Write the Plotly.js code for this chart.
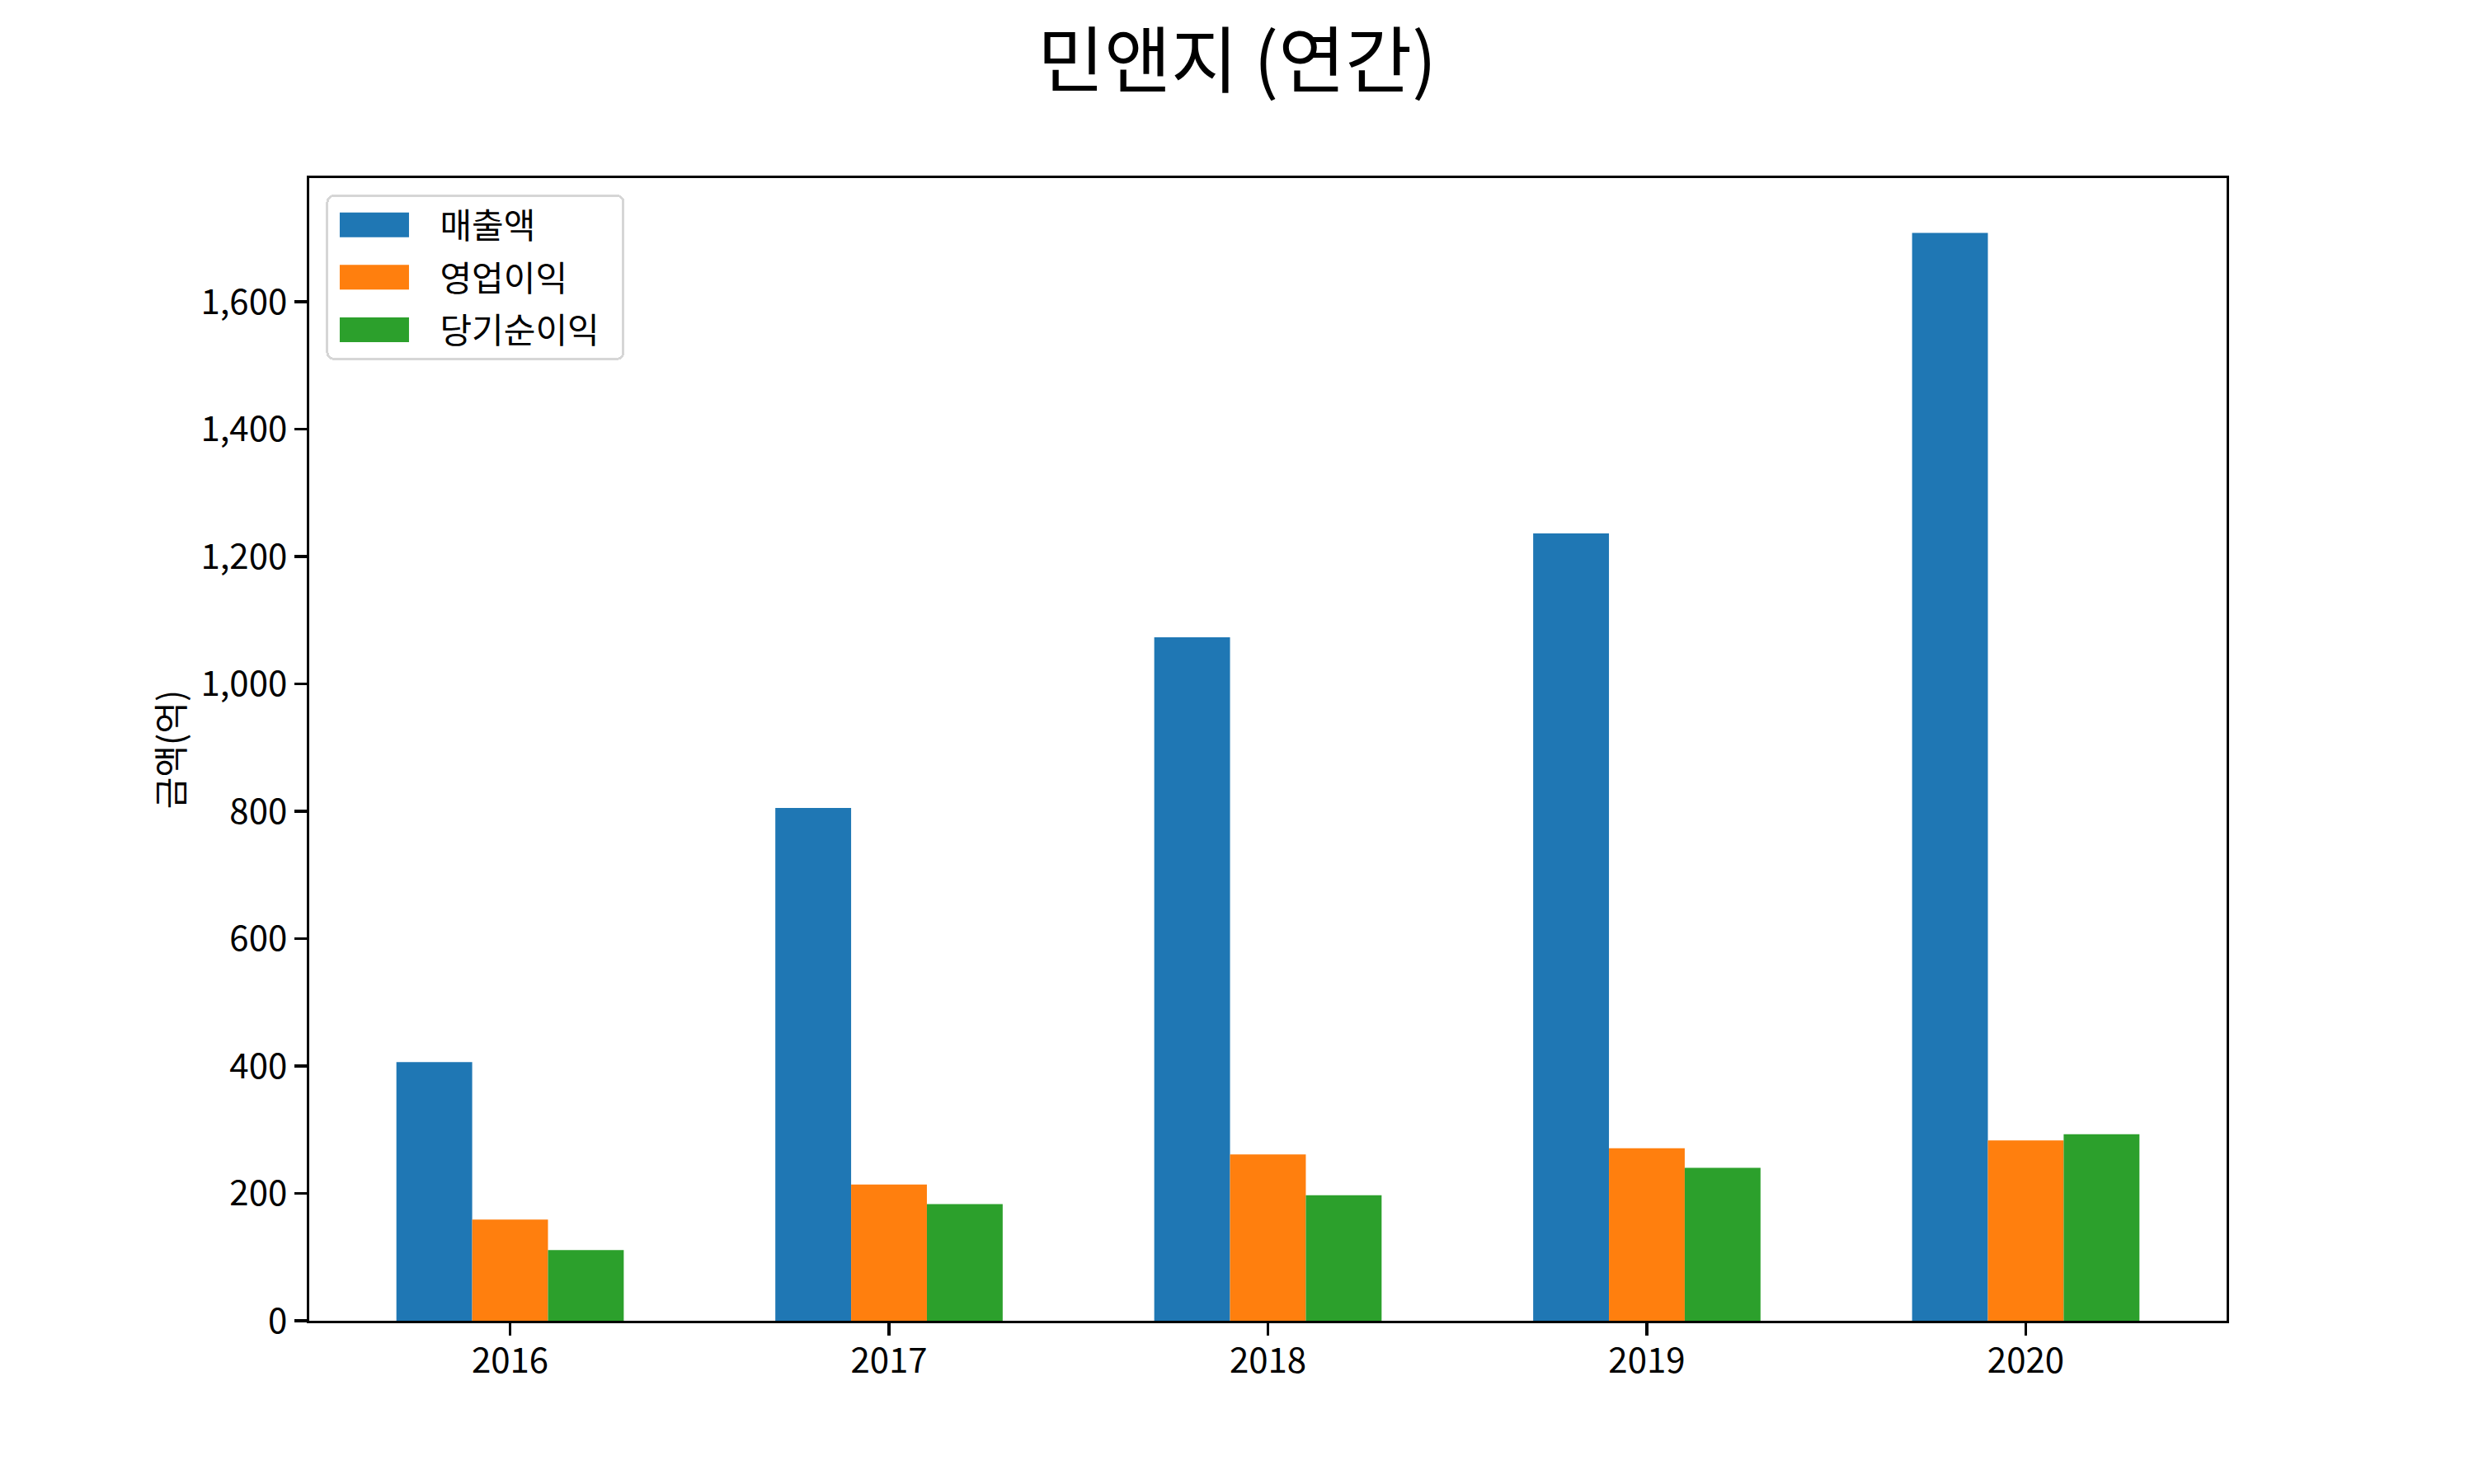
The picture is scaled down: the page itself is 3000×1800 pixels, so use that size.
<!DOCTYPE html>
<html>
<head>
<meta charset="utf-8">
<script src="https://cdn.plot.ly/plotly-3.0.1.min.js"></script>
<style>html,body{margin:0;padding:0;background:#fff;}#chart{width:3000px;height:1800px;}</style>
</head>
<body>
<div id="chart"></div>
<script>
const years = ['2016', '2017', '2018', '2019', '2020'];
const seriesNames = ['매출액', '영업이익', '당기순이익'];
const revenue = [406, 805, 1073, 1236, 1708];
const operatingProfit = [159, 214, 261, 271, 283];
const netIncome = [111, 183, 197, 240, 293];
const colors = ['#1f77b4', '#ff7f0e', '#2ca02c'];

const FONT = '"Noto Sans CJK KR", "Noto Sans", sans-serif';
const values = [revenue, operatingProfit, netIncome];

const traces = values.map((v, i) => ({
  type: 'bar',
  name: seriesNames[i],
  x: years,
  y: v,
  marker: {color: colors[i], line: {width: 0}},
  legendgroup: 'g' + i,
  hoverinfo: 'x+y+name'
}));

const layout = {
  width: 3000,
  height: 1800,
  paper_bgcolor: '#ffffff',
  plot_bgcolor: '#ffffff',
  margin: {l: 375, r: 300, t: 216, b: 198, pad: 0},
  font: {family: FONT, size: 42, color: '#000'},
  title: {
    text: '민앤지 (연간)',
    font: {family: FONT, size: 88, color: '#000'},
    x: 0.5, xanchor: 'center', xref: 'container',
    y: 1 - 74 / 1800, yanchor: 'middle', yref: 'container'
  },
  barmode: 'group',
  bargap: 0.4,
  bargroupgap: 0,
  showlegend: true,
  legend: {
    x: 0.0088, y: 0.9856, xanchor: 'left', yanchor: 'top',
    bgcolor: 'rgba(255,255,255,0.8)',
    bordercolor: '#d6d6d6', borderwidth: 3,
    font: {family: FONT, size: 42, color: '#000'},
    tracegroupgap: 6,
    itemwidth: 125,
    traceorder: 'grouped'
  },
  xaxis: {
    type: 'category',
    range: [-0.53, 4.53],
    showgrid: false, zeroline: false,
    showline: true, linecolor: '#000', linewidth: 3.3, mirror: true,
    ticks: 'outside', ticklen: 15, tickwidth: 3.3, tickcolor: '#000',
    ticklabelstandoff: -6,
    tickfont: {family: FONT, size: 42, color: '#000'},
    fixedrange: true
  },
  yaxis: {
    range: [0, 1794],
    tickvals: [0, 200, 400, 600, 800, 1000, 1200, 1400, 1600],
    tickformat: ',d',
    showgrid: false, zeroline: false,
    showline: true, linecolor: '#000', linewidth: 3.3, mirror: true,
    ticks: 'outside', ticklen: 15, tickwidth: 3.3, tickcolor: '#000',
    tickfont: {family: FONT, size: 42, color: '#000'},
    title: {text: '금액(억)', font: {family: FONT, size: 42, color: '#000'}, standoff: 7},
    fixedrange: true
  }
};

Plotly.newPlot('chart', traces, layout, {displayModeBar: false, staticPlot: true}).then(gd => {
  // make legend swatches wide rectangles like the reference
  gd.querySelectorAll('.legend .legendpoints path').forEach(p => {
    p.setAttribute('d', 'M-54,-15H30V15H-54Z');
  });
  // widen the legend frame a little (reference font is wider)
  const bg = gd.querySelector('.legend rect.bg');
  if (bg) {
    const w = parseFloat(bg.getAttribute('width'));
    bg.setAttribute('width', String(w + 22));
    bg.setAttribute('rx', '8');
    bg.setAttribute('ry', '8');
  }
});
</script>
</body>
</html>
